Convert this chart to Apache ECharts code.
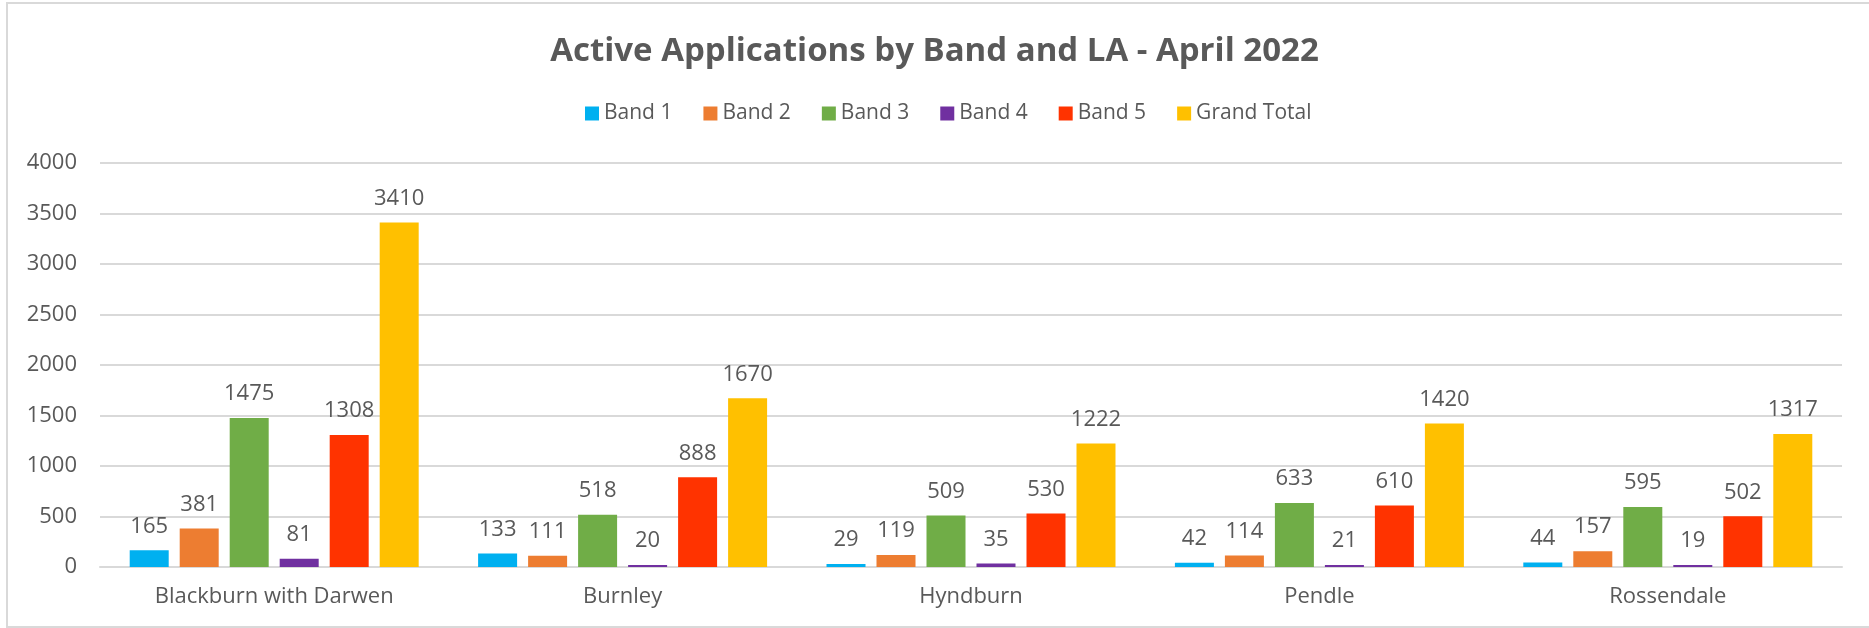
<!DOCTYPE html>
<html>
<head>
<meta charset="utf-8">
<script src="https://cdn.jsdelivr.net/npm/echarts@6/dist/echarts.min.js"></script>
<style>
html,body{margin:0;padding:0;background:#fff;}
#chart{width:1869px;height:628px;}
</style>
</head>
<body>
<div id="chart"></div>
<script>
const categories = ['Blackburn with Darwen', 'Burnley', 'Hyndburn', 'Pendle', 'Rossendale'];
const seriesNames = ['Band 1', 'Band 2', 'Band 3', 'Band 4', 'Band 5', 'Grand Total'];
const band1 = [165, 133, 29, 42, 44];
const band2 = [381, 111, 119, 114, 157];
const band3 = [1475, 518, 509, 633, 595];
const band4 = [81, 20, 35, 21, 19];
const band5 = [1308, 888, 530, 610, 502];
const grandTotal = [3410, 1670, 1222, 1420, 1317];
const yTicks = [0, 500, 1000, 1500, 2000, 2500, 3000, 3500, 4000];
const colors = ['#00B0F0', '#ED7D31', '#70AD47', '#7030A0', '#FF3300', '#FFC000'];

const allData = [band1, band2, band3, band4, band5, grandTotal];
const textColor = '#595959';
const fontFam = '"Open Sans", sans-serif';

const chart = echarts.init(document.getElementById('chart'), null, {renderer: 'canvas'});
const option = {
  backgroundColor: '#ffffff',
  color: colors,
  animation: false,
  title: {
    text: 'Active Applications by Band and LA - April 2022',
    left: 'center',
    top: 30,
    textStyle: {color: textColor, fontFamily: fontFam, fontWeight: 'bold', fontSize: 33}
  },
  legend: {
    data: seriesNames,
    left: 580,
    top: 98,
    itemWidth: 14,
    itemHeight: 14,
    itemGap: 31,
    icon: 'rect',
    textStyle: {color: textColor, fontFamily: fontFam, fontSize: 21}
  },
  graphic: [{
    type: 'rect',
    shape: {x: 7, y: 3, width: 1900, height: 624},
    style: {fill: 'none', stroke: '#d9d9d9', lineWidth: 2},
    silent: true
  }],
  grid: {left: 100, right: 27, top: 163, bottom: 61, containLabel: false},
  xAxis: {
    type: 'category',
    data: categories,
    axisLine: {show: true, lineStyle: {color: '#d9d9d9', width: 2}},
    axisTick: {show: false},
    axisLabel: {color: textColor, fontFamily: fontFam, fontSize: 22, margin: 19}
  },
  yAxis: {
    type: 'value',
    min: yTicks[0],
    max: yTicks[yTicks.length - 1],
    interval: 500,
    axisLine: {show: false},
    axisTick: {show: false},
    splitLine: {lineStyle: {color: '#d9d9d9', width: 2}},
    axisLabel: {color: textColor, fontFamily: fontFam, fontSize: 22, margin: 23,
      formatter: v => String(v)}
  },
  series: seriesNames.map((name, i) => ({
    name: name,
    type: 'bar',
    data: allData[i],
    barWidth: 39,
    barGap: '28.2%',
    itemStyle: {color: colors[i]},
    label: {
      show: true,
      position: 'top',
      distance: 13,
      color: textColor,
      fontFamily: fontFam,
      fontSize: 22
    }
  }))
};
chart.setOption(option);
</script>
</body>
</html>
